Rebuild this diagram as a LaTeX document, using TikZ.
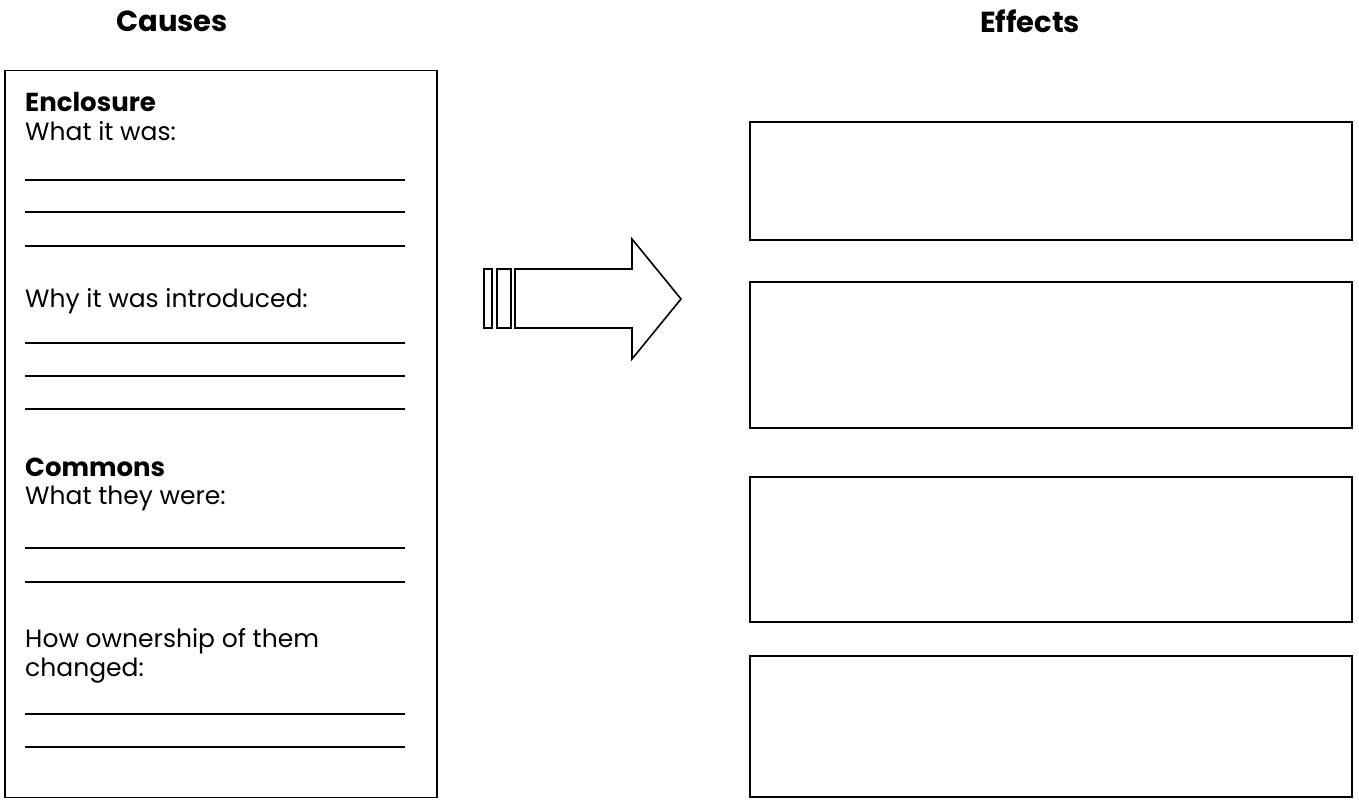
\documentclass[tikz,border=0pt]{standalone}
\usepackage{fontspec}
\setmainfont{Poppins}
\begin{document}
\begin{tikzpicture}[x=1pt,y=-1pt,
  title/.style={font=\bfseries\fontsize{29}{32}\selectfont, anchor=center},
  head/.style={font=\bfseries\fontsize{26}{29}\selectfont, anchor=base west, inner sep=0pt},
  body/.style={font=\fontsize{25}{28}\selectfont, anchor=base west, inner sep=0pt},
  frame/.style={draw=black, line width=1.9pt, inner sep=0pt},
  wline/.style={draw=black, line width=1.4pt},
  arr/.style={draw=black, line width=1.6pt, line join=miter, fill=white}]
\useasboundingbox (0,0) rectangle (1359,802);
\fill[white] (0,0) rectangle (1359,802);

% titles
\node[title] (causes) at (172,21) {Causes};
\node[title] (effects) at (1030,21) {Effects};

% left box
\node[frame, minimum width=432pt, minimum height=727pt] (left) at (221,434) {};

\node[head] (enc) at (25,112) {Enclosure};
\node[body] (what) at (25,141) {What it was:};
\foreach \y [count=\i] in {180,212,246} {
  \coordinate (a\i) at (25,\y); \coordinate (b\i) at (405,\y);
  \draw[wline] (a\i) -- (b\i);
}
\node[body] (why) at (25,307) {Why it was introduced:};
\foreach \y [count=\i] in {343,376,409} {
  \coordinate (c\i) at (25,\y); \coordinate (d\i) at (405,\y);
  \draw[wline] (c\i) -- (d\i);
}
\node[head] (com) at (25,476) {Commons};
\node[body] (they) at (25,504) {What they were:};
\foreach \y [count=\i] in {548,582} {
  \coordinate (e\i) at (25,\y); \coordinate (f\i) at (405,\y);
  \draw[wline] (e\i) -- (f\i);
}
\node[body] (how) at (25,647) {How ownership of them};
\node[body] (chg) at (25,676) {changed:};
\foreach \y [count=\i] in {714,747} {
  \coordinate (g\i) at (25,\y); \coordinate (h\i) at (405,\y);
  \draw[wline] (g\i) -- (h\i);
}

% arrow
\draw[arr] (484,269) rectangle (492,328);
\draw[arr] (497,269) rectangle (511,328);
\draw[arr] (515,269) -- (632,269) -- (632,239) -- (681,299) -- (632,359) -- (632,328) -- (515,328) -- cycle;

% right boxes
\node[frame, minimum width=602pt, minimum height=118pt] (e1) at (1051,181) {};
\node[frame, minimum width=602pt, minimum height=146pt] (e2) at (1051,355) {};
\node[frame, minimum width=602pt, minimum height=145pt] (e3) at (1051,549.5) {};
\node[frame, minimum width=602pt, minimum height=141pt] (e4) at (1051,726.5) {};
\end{tikzpicture}
\end{document}
